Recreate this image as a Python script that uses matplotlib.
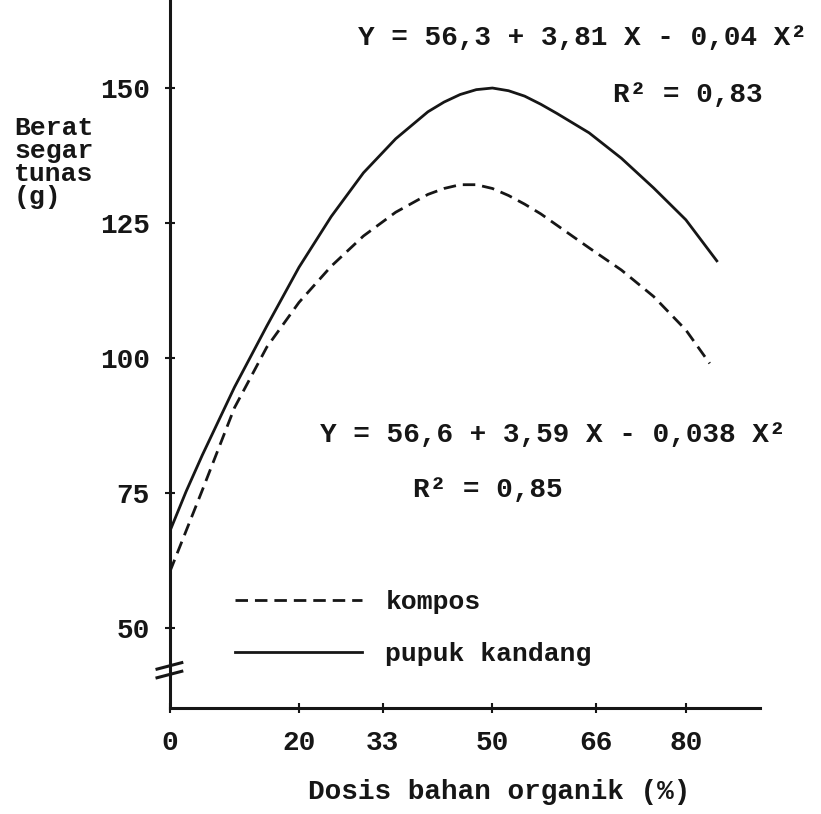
import matplotlib
matplotlib.use('Agg')
import matplotlib.pyplot as plt

# values
dosis_pupuk = [0, 2.5, 5, 10, 15, 20, 25, 30, 35, 40, 42.5, 45, 47.5, 50, 52.5, 55, 57.5,
               60, 65, 70, 75, 80, 84.8]
berat_pupuk = [68.0, 75.3, 82.0, 94.6, 105.9, 116.8, 126.2, 134.3, 140.6, 145.6, 147.4, 148.8,
               149.7, 150.0, 149.5, 148.5, 147.0, 145.3, 141.7, 137.0, 131.5, 125.6, 118.0]
dosis_kompos = [0, 2.5, 5, 10, 15, 20, 25, 30, 35, 40, 42.5, 45, 47.5, 50, 52.5, 55, 57.5,
                60, 65, 70, 75, 80, 83.7]
berat_kompos = [60.5, 68.0, 75.5, 90.8, 102.0, 110.3, 117.0, 122.6, 127.0, 130.3, 131.4, 132.1,
                132.1, 131.4, 130.1, 128.5, 126.7, 124.6, 120.4, 116.3, 111.4, 105.2, 99.0]

x_ticks = [0, 20, 33, 50, 66, 80]
y_ticks = [50, 75, 100, 125, 150]

eq_pupuk = 'Y = 56,3 + 3,81 X - 0,04 X²'
r2_pupuk = 'R² = 0,83'
eq_kompos = 'Y = 56,6 + 3,59 X - 0,038 X²'
r2_kompos = 'R² = 0,85'

ink = '#161616'
font = dict(family=['Liberation Mono', 'DejaVu Sans Mono'], weight='bold', color=ink)

fig = plt.figure(figsize=(8.21, 8.14), dpi=100)
ax = fig.add_axes([170 / 821, 106 / 814, 590 / 821, 708 / 814])

ax.plot(dosis_kompos, berat_kompos, color=ink, lw=2.0, ls=(0, (4.5, 2.5)), label='kompos')
ax.plot(dosis_pupuk, berat_pupuk, color=ink, lw=2.0, label='pupuk kandang')

ax.set_xlim(0, 91.5)
ax.set_ylim(35.2, 166.3)
ax.set_xticks(x_ticks)
ax.set_yticks(y_ticks)
ax.set_xticklabels([str(v) for v in x_ticks], fontdict=font, fontsize=20)
ax.set_yticklabels([str(v) for v in y_ticks], fontdict=font, fontsize=20)
ax.tick_params(direction='inout', length=7, width=1.5, color=ink)
ax.tick_params(axis='x', pad=12)
ax.tick_params(axis='y', pad=11)

for s in ['top', 'right']:
    ax.spines[s].set_visible(False)
for s in ['left', 'bottom']:
    ax.spines[s].set_linewidth(2.2)
    ax.spines[s].set_color(ink)

# axis break marks
tr = ax.get_yaxis_transform()
for y0 in (42.4, 40.8):
    ax.plot([-0.022, 0.020], [y0, y0 + 1.2], transform=tr, color=ink, lw=2.2, clip_on=False)

ax.text(64.0, 159.3, eq_pupuk, ha='center', va='center', fontsize=20, **font)
ax.text(80.3, 148.7, r2_pupuk, ha='center', va='center', fontsize=20, **font)
ax.text(59.3, 85.7, eq_kompos, ha='center', va='center', fontsize=20, **font)
ax.text(49.3, 75.6, r2_kompos, ha='center', va='center', fontsize=20, **font)

leg = ax.legend(loc='upper left', bbox_to_anchor=(0.07, 0.2), frameon=False,
                handlelength=4.8, handletextpad=0.9, labelspacing=1.05,
                prop=dict(family=['Liberation Mono', 'DejaVu Sans Mono'], weight='bold', size=19))
for t in leg.get_texts():
    t.set_color(ink)

ax.set_xlabel('Dosis bahan organik (%)', fontsize=20, labelpad=22, **font)
ax.xaxis.set_label_coords(0.558, -0.1)
fig.text(14 / 821, 1 - 116 / 814, 'Berat\nsegar\ntunas\n(g)', ha='left', va='top',
         fontsize=19, linespacing=0.95, **font)

fig.savefig('out.png', dpi=100, facecolor='white')
